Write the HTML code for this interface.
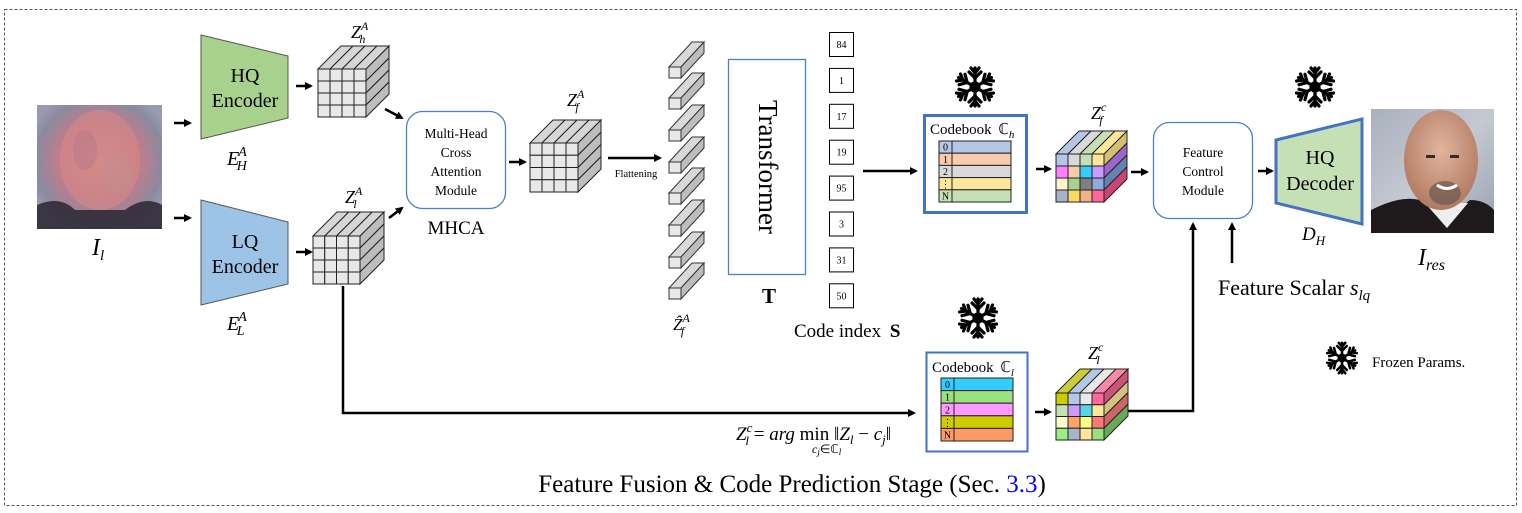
<!DOCTYPE html>
<html><head><meta charset="utf-8">
<style>
html,body{margin:0;padding:0;background:#fff;}
svg{display:block;}
text{font-family:"Liberation Serif",serif;fill:#000;}
.it{font-style:italic;}
</style></head>
<body>
<svg id="s" width="1522" height="513" viewBox="0 0 1522 513" xmlns="http://www.w3.org/2000/svg">
<defs>
<marker id="ah" markerWidth="8" markerHeight="8" refX="6" refY="4" orient="auto" markerUnits="userSpaceOnUse">
<path d="M0,0 L8,4 L0,8 Z" fill="#000"/>
</marker>
<radialGradient id="fl" cx="0.5" cy="0.45" r="0.6">
<stop offset="0" stop-color="#d88a88"/><stop offset="0.5" stop-color="#c87a88"/><stop offset="0.85" stop-color="#8a8aa0"/><stop offset="1" stop-color="#9a9ab0"/>
</radialGradient>
<linearGradient id="bgr" x1="0" y1="0" x2="1" y2="1">
<stop offset="0" stop-color="#a9b0bd"/><stop offset="0.5" stop-color="#c4c9d2"/><stop offset="1" stop-color="#9aa2b0"/>
</linearGradient>
<radialGradient id="skin" cx="0.5" cy="0.4" r="0.6">
<stop offset="0" stop-color="#e2b59d"/><stop offset="1" stop-color="#b07a62"/>
</radialGradient>
<g id="snow" stroke="#000" stroke-width="3.2" stroke-linecap="round" fill="none">
<g id="arm"><line x1="0" y1="0" x2="0" y2="-19"/><line x1="0" y1="-9" x2="-6" y2="-15"/><line x1="0" y1="-9" x2="6" y2="-15"/><line x1="0" y1="-14" x2="-4" y2="-19"/><line x1="0" y1="-14" x2="4" y2="-19"/></g>
<use href="#arm" transform="rotate(60)"/><use href="#arm" transform="rotate(120)"/><use href="#arm" transform="rotate(180)"/><use href="#arm" transform="rotate(240)"/><use href="#arm" transform="rotate(300)"/>
<circle r="4" fill="#000"/>
</g>
</defs>

<rect x="4.5" y="9.5" width="1512" height="496" fill="none" stroke="#555" stroke-width="1" stroke-dasharray="3,2"/>

<!-- left face -->
<rect x="37" y="105" width="125" height="124" fill="url(#fl)"/>
<ellipse cx="100" cy="160" rx="40" ry="50" fill="#d08a8a" opacity="0.6"/>
<ellipse cx="85" cy="150" rx="12" ry="20" fill="#b87888" opacity="0.5"/>
<ellipse cx="118" cy="175" rx="14" ry="18" fill="#c09090" opacity="0.5"/>
<path d="M37,205 Q60,195 75,210 L125,210 Q145,195 162,205 L162,229 L37,229 Z" fill="#2a2530" opacity="0.85"/>
<text x="92" y="255" font-size="24" class="it">I<tspan font-size="15" dy="5">l</tspan></text>

<line x1="174" y1="123" x2="190" y2="123" stroke="#000" stroke-width="2.5" marker-end="url(#ah)"/>
<line x1="174" y1="218" x2="190" y2="218" stroke="#000" stroke-width="2.5" marker-end="url(#ah)"/>

<polygon points="201,35 288,56 288,118 201,139" fill="#a9d18e" stroke="#555" stroke-width="1"/>
<text x="245" y="82" font-size="20" text-anchor="middle">HQ</text>
<text x="245" y="107" font-size="20" text-anchor="middle">Encoder</text>
<text x="227" y="165" font-size="20" class="it">E<tspan font-size="14" dx="-1" dy="-9">A</tspan><tspan font-size="14" dx="-10" dy="14">H</tspan></text>

<polygon points="201,200 288,222 288,284 201,305" fill="#9dc3e6" stroke="#555" stroke-width="1"/>
<text x="245" y="248" font-size="20" text-anchor="middle">LQ</text>
<text x="245" y="273" font-size="20" text-anchor="middle">Encoder</text>
<text x="227" y="330" font-size="20" class="it">E<tspan font-size="14" dx="-1" dy="-9">A</tspan><tspan font-size="14" dx="-10" dy="14">L</tspan></text>

<line x1="296" y1="86" x2="311" y2="86" stroke="#000" stroke-width="2.5" marker-end="url(#ah)"/>
<line x1="296" y1="252" x2="311" y2="252" stroke="#000" stroke-width="2.5" marker-end="url(#ah)"/>

<g id="cubes"></g>

<text x="351" y="38" font-size="18" class="it">Z<tspan font-size="12" dy="-8">A</tspan><tspan font-size="12" dx="-9" dy="13">h</tspan></text>
<text x="345" y="203" font-size="18" class="it">Z<tspan font-size="12" dy="-8">A</tspan><tspan font-size="12" dx="-9" dy="13">l</tspan></text>
<text x="567" y="106" font-size="18" class="it">Z<tspan font-size="12" dy="-8">A</tspan><tspan font-size="12" dx="-9" dy="13">f</tspan></text>

<line x1="385" y1="109" x2="402" y2="118" stroke="#000" stroke-width="2.5" marker-end="url(#ah)"/>
<line x1="389" y1="218" x2="402" y2="208" stroke="#000" stroke-width="2.5" marker-end="url(#ah)"/>

<rect x="406.5" y="111.5" width="99" height="97" rx="16" fill="#fff" stroke="#4a7fd0" stroke-width="1.3"/>
<text x="456" y="138" font-size="13.5" text-anchor="middle">Multi-Head</text>
<text x="456" y="157" font-size="13.5" text-anchor="middle">Cross</text>
<text x="456" y="176" font-size="13.5" text-anchor="middle">Attention</text>
<text x="456" y="195" font-size="13.5" text-anchor="middle">Module</text>
<text x="456" y="234" font-size="19" text-anchor="middle">MHCA</text>

<line x1="509" y1="162" x2="525" y2="162" stroke="#000" stroke-width="2.5" marker-end="url(#ah)"/>

<line x1="608" y1="158" x2="660" y2="158" stroke="#000" stroke-width="2.5" marker-end="url(#ah)"/>
<text x="636" y="177" font-size="10.5" text-anchor="middle">Flattening</text>

<g id="bars"></g>
<text x="673" y="330" font-size="17" class="it">Ẑ<tspan font-size="12" dy="-8">A</tspan><tspan font-size="12" dx="-9" dy="13">f</tspan></text>

<rect x="728.5" y="59.5" width="77" height="215" fill="#fff" stroke="#4a7fd0" stroke-width="1.3"/>
<text x="0" y="0" font-size="27" text-anchor="middle" transform="translate(759,167) rotate(90)">Transformer</text>
<text x="769" y="303" font-size="21" font-weight="bold" text-anchor="middle">T</text>

<g id="codes" font-size="10"></g>
<text x="794" y="337" font-size="19">Code index <tspan font-weight="bold" dx="4">S</tspan></text>

<line x1="863" y1="171" x2="916" y2="171" stroke="#000" stroke-width="2.5" marker-end="url(#ah)"/>

<use href="#snow" x="975" y="87"/>
<use href="#snow" x="978" y="318"/>
<use href="#snow" x="1315" y="87"/>
<use href="#snow" transform="translate(1342,358) scale(0.8)"/>
<text x="1372" y="367" font-size="15">Frozen Params.</text>

<rect x="924.5" y="115.5" width="102" height="97" fill="#fff" stroke="#4472c4" stroke-width="3"/>
<text x="930" y="134" font-size="15">Codebook <tspan dx="3">ℂ</tspan><tspan font-size="11" dy="4" class="it">h</tspan></text>
<g id="cbh"></g>
<rect x="926.5" y="352.5" width="101" height="99" fill="#fff" stroke="#4472c4" stroke-width="2"/>
<text x="932" y="372" font-size="15">Codebook <tspan dx="3">ℂ</tspan><tspan font-size="11" dy="4" class="it">l</tspan></text>
<g id="cbl"></g>

<line x1="1036" y1="169" x2="1050" y2="169" stroke="#000" stroke-width="2.5" marker-end="url(#ah)"/>
<line x1="1035" y1="412" x2="1050" y2="412" stroke="#000" stroke-width="2.5" marker-end="url(#ah)"/>

<text x="1091" y="119" font-size="18" class="it">Z<tspan font-size="12" dy="-8">c</tspan><tspan font-size="12" dx="-7" dy="13">f</tspan></text>
<text x="1088" y="359" font-size="18" class="it">Z<tspan font-size="12" dy="-8">c</tspan><tspan font-size="12" dx="-7" dy="13">l</tspan></text>

<line x1="1131" y1="172" x2="1147" y2="172" stroke="#000" stroke-width="2.5" marker-end="url(#ah)"/>

<rect x="1153.5" y="122.5" width="99" height="96" rx="16" fill="#fff" stroke="#4a7fd0" stroke-width="1.3"/>
<text x="1203" y="157" font-size="13.5" text-anchor="middle">Feature</text>
<text x="1203" y="176" font-size="13.5" text-anchor="middle">Control</text>
<text x="1203" y="195" font-size="13.5" text-anchor="middle">Module</text>

<line x1="1258" y1="171" x2="1272" y2="171" stroke="#000" stroke-width="2.5" marker-end="url(#ah)"/>

<polygon points="1276,140 1362,119 1362,224 1276,203" fill="#c5e0b4" stroke="#4472c4" stroke-width="3"/>
<text x="1320" y="164" font-size="20" text-anchor="middle">HQ</text>
<text x="1320" y="190" font-size="20" text-anchor="middle">Decoder</text>
<text x="1302" y="240" font-size="19" class="it">D<tspan font-size="13" dy="5">H</tspan></text>

<rect x="1371" y="109" width="123" height="124" fill="url(#bgr)"/>
<path d="M1371,210 Q1400,195 1420,200 L1445,220 L1470,200 Q1485,200 1494,210 L1494,233 L1371,233 Z" fill="#1e1a1c"/>
<path d="M1425,203 L1447,228 L1468,203 Z" fill="#eee"/>
<ellipse cx="1441" cy="160" rx="37" ry="50" fill="url(#skin)"/>
<ellipse cx="1445" cy="193" rx="16" ry="12" fill="#6a5a50" opacity="0.7"/>
<path d="M1437,185 Q1447,192 1457,185" stroke="#fff" stroke-width="3" fill="none"/>
<rect x="1426" y="155" width="9" height="3" fill="#3a2a22"/><rect x="1450" y="155" width="9" height="3" fill="#3a2a22"/>
<text x="1418" y="265" font-size="24" class="it">I<tspan font-size="16" dy="5">res</tspan></text>

<line x1="1232" y1="263" x2="1232" y2="224" stroke="#000" stroke-width="2.5" marker-end="url(#ah)"/>
<text x="1218" y="295" font-size="22">Feature Scalar <tspan class="it">s</tspan><tspan class="it" font-size="15" dy="5">lq</tspan></text>

<polyline points="343,286 343,413 914,413" fill="none" stroke="#000" stroke-width="2.5" marker-end="url(#ah)"/>
<polyline points="1128,411 1193,411 1193,224" fill="none" stroke="#000" stroke-width="2.5" marker-end="url(#ah)"/>

<text x="736" y="440" font-size="19" class="it">Z<tspan font-size="13" dy="-8">c</tspan><tspan font-size="13" dx="-7" dy="13">l</tspan><tspan dy="-5" font-style="normal"> = </tspan>arg <tspan font-style="normal">min</tspan> <tspan font-style="normal">‖</tspan>Z<tspan font-size="13" dy="4">l</tspan><tspan dy="-4" font-style="normal"> − </tspan>c<tspan font-size="13" dy="4">j</tspan><tspan dy="-4" font-style="normal">‖</tspan></text>
<text x="812" y="453" font-size="12" class="it">c<tspan font-size="9" dy="2">j</tspan><tspan dy="-2" font-style="normal">∈ℂ</tspan><tspan font-size="9" dy="2">l</tspan></text>

<text x="792" y="492" font-size="25" text-anchor="middle">Feature Fusion &amp; Code Prediction Stage (Sec. <tspan fill="#0000ff">3.3</tspan>)</text>
</svg>
<script>
var NS="http://www.w3.org/2000/svg";
function el(p,t,a){var e=document.createElementNS(NS,t);for(var k in a)e.setAttribute(k,a[k]);p.appendChild(e);return e;}
var cubes=document.getElementById("cubes");
function cube(x,y,w,h,d,front,top,right){
 var cw=w/4,ch=h/4,g=el(cubes,"g",{stroke:"#222","stroke-width":"1"});
 for(var i=0;i<4;i++){
  el(g,"polygon",{points:(x+i*cw)+","+y+" "+(x+(i+1)*cw)+","+y+" "+(x+(i+1)*cw+d)+","+(y-d)+" "+(x+i*cw+d)+","+(y-d),fill:top[i]});
  el(g,"polygon",{points:(x+w)+","+(y+i*ch)+" "+(x+w+d)+","+(y+i*ch-d)+" "+(x+w+d)+","+(y+(i+1)*ch-d)+" "+(x+w)+","+(y+(i+1)*ch),fill:right[i]});
  for(var j=0;j<4;j++) el(g,"rect",{x:x+j*cw,y:y+i*ch,width:cw,height:ch,fill:front[i*4+j]});
 }
}
function rep(c,n){var a=[];for(var i=0;i<n;i++)a.push(c);return a;}
var gF=rep("#e8e8e8",16),gT=rep("#d6d6d6",4),gR=rep("#bdbdbd",4);
cube(318,69,48,48,23,gF,gT,gR);
cube(313,236,47,48,24,gF,gT,gR);
cube(530,143,48,49,23,gF,gT,gR);
cube(1056,154,48,48,23,
 ["#b4c7e7","#d9d9d9","#c5e0b4","#ffe699","#ff80ff","#f8cbad","#33ccff","#cc99ff","#fff2cc","#a9d18e","#7f7f7f","#8faadc","#a5b4c8","#ffd966","#f4b183","#ff6699"],
 ["#b4c7e7","#d9d9d9","#c5e0b4","#ffe699"],
 ["#d4c070","#9966cc","#6680b0","#cc4477"]);
cube(1056,393,48,47,24,
 ["#cccc00","#b4c7e7","#e8e8e8","#ff6699","#c5e0b4","#cc99ff","#55d5e5","#ffe699","#fffccc","#ffa366","#ffff88","#ff7777","#99ee88","#aab4c8","#ffe699","#99e07f"],
 ["#cccc33","#b4c7e7","#e8e8e8","#ff88aa"],
 ["#cc5577","#d4c080","#cc6666","#66aa55"]);
var bars=document.getElementById("bars");
[67,98,130,162,193,225,257,288].forEach(function(y){
 var g=el(bars,"g",{stroke:"#333","stroke-width":"1"});
 var x=669,w=12,h=11,dx=23,dy=25;
 el(g,"polygon",{points:x+","+y+" "+(x+w)+","+y+" "+(x+w+dx)+","+(y-dy)+" "+(x+dx)+","+(y-dy),fill:"#d9d9d9"});
 el(g,"polygon",{points:(x+w)+","+y+" "+(x+w+dx)+","+(y-dy)+" "+(x+w+dx)+","+(y-dy+h)+" "+(x+w)+","+(y+h),fill:"#bdbdbd"});
 el(g,"rect",{x:x,y:y,width:w,height:h,fill:"#e8e8e8"});
});
var codes=document.getElementById("codes");
[84,1,17,19,95,3,31,50].forEach(function(v,i){
 var y=32+i*35.9;
 el(codes,"rect",{x:829.5,y:y+0.5,width:24,height:24,fill:"#fff",stroke:"#000","stroke-width":"1"});
 var t=el(codes,"text",{x:841.5,y:y+16,"text-anchor":"middle","font-size":"10"});t.textContent=v;
});
function cb(id,x,y,w,rh,cols){
 var g=document.getElementById(id);
 var labs=["0","1","2","⋮","N"];
 cols.forEach(function(c,i){
  el(g,"rect",{x:x,y:y+i*rh,width:w,height:rh,fill:c,stroke:"#222","stroke-width":"1"});
  el(g,"line",{x1:x+13,y1:y+i*rh,x2:x+13,y2:y+(i+1)*rh,stroke:"#222","stroke-width":"1"});
  var t=el(g,"text",{x:x+6.5,y:y+i*rh+rh-2.5,"text-anchor":"middle","font-size":"10"});t.textContent=labs[i];
 });
}
cb("cbh",939,141,72,12.2,["#b4c7e7","#f8cbad","#d9d9d9","#ffe699","#c5e0b4"]);
cb("cbl",941,378,72,12.6,["#33ccff","#99e07f","#ff99ff","#cccc00","#ff9966"]);
</script>
</body></html>
